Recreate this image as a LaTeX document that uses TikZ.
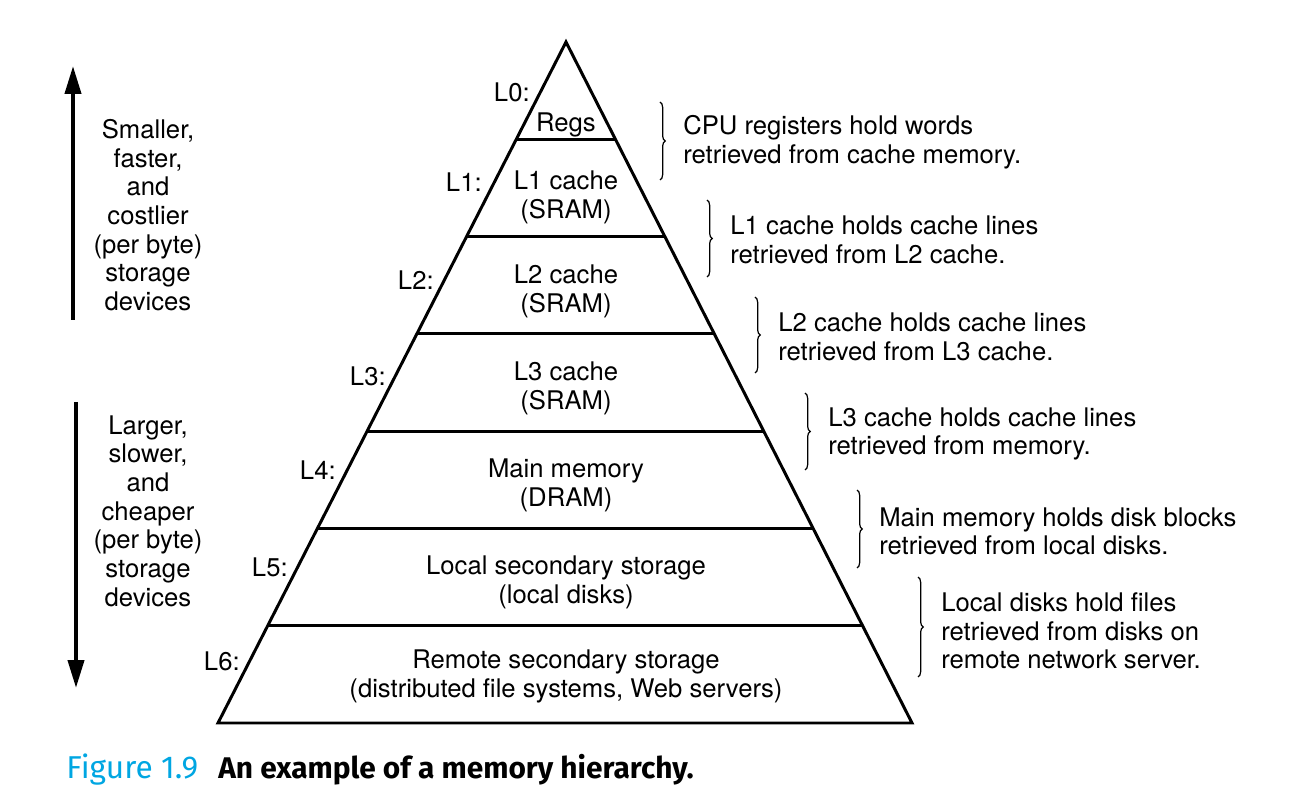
\documentclass[tikz,border=0pt]{standalone}
\usepackage{fontspec}
\setmainfont{TeX Gyre Heros}
\newfontfamily\capfont{Fira Sans}
\usetikzlibrary{arrows.meta,calc,decorations.pathreplacing}
\definecolor{figblue}{RGB}{0,166,226}

\begin{document}
\begin{tikzpicture}[x=0.02cm,y=-0.02cm,
  lvl/.style={font=\fontsize{14.6}{16.3}\selectfont,align=center,inner sep=0pt,yshift=-1.4pt},
  tag/.style={font=\fontsize{14.6}{16.3}\selectfont,anchor=east,inner sep=0pt},
  note/.style={font=\fontsize{14.6}{16.3}\selectfont,align=left,anchor=west,inner sep=0pt,yshift=-1.4pt},
  side/.style={font=\fontsize{14.6}{16.3}\selectfont,align=center,inner sep=0pt},
  curly/.style={line width=0.7pt,decorate,decoration={brace,amplitude=3pt}},
  bigarrow/.style={line width=2.3pt,-{Triangle[length=0.56cm,width=0.32cm]}}]
  \useasboundingbox (0,0) rectangle (1302,786);
  % the pyramid
  \coordinate (apex) at (566,42);
  \coordinate (bl) at (218,723);
  \coordinate (br) at (912,723);
  \draw[line width=1.7pt,line join=miter] (apex) -- (bl) -- (br) -- cycle;
  \foreach \k in {1,...,6}
    \draw[line width=1.6pt] ($(apex)!\k/7!(bl)$) -- ($(apex)!\k/7!(br)$);
  % level tags
  \foreach \k/\x/\y in {0/530/92,1/482/182,2/434/280,3/386/376,4/336/470,5/288/567,6/240/661}
    \node[tag] (tag\k) at (\x,\y) {L\k:};
  % level contents
  \node[lvl] (regs) at (566,122) {Regs};
  \node[lvl] (lone) at (566,195) {L1 cache\\(SRAM)};
  \node[lvl] (ltwo) at (566,289) {L2 cache\\(SRAM)};
  \node[lvl] (lthree) at (566,386) {L3 cache\\(SRAM)};
  \node[lvl] (dram) at (566,483) {Main memory\\(DRAM)};
  \node[lvl] (local) at (566,580) {Local secondary storage\\(local disks)};
  \node[lvl] (remote) at (566,674) {Remote secondary storage\\(distributed file systems, Web servers)};
  % braces and notes
  \foreach \i/\x/\ya/\yb in {0/660/102/180,1/707/200/277,2/755/297/373,3/805/393/470,4/857/490/568,5/918/577/677}{
    \coordinate (bt\i) at (\x,\ya);
    \coordinate (bb\i) at (\x,\yb);
    \draw[curly] (bt\i) -- (bb\i);
  }
  \node[note] (n0) at (683,139.5) {CPU registers hold words\\retrieved from cache memory.};
  \node[note] (n1) at (730,237.5) {L1 cache holds cache lines\\retrieved from L2 cache.};
  \node[note] (n2) at (778,334.5) {L2 cache holds cache lines\\retrieved from L3 cache.};
  \node[note] (n3) at (828,431.5) {L3 cache holds cache lines\\retrieved from memory.};
  \node[note] (n4) at (879,529) {Main memory holds disk blocks\\retrieved from local disks.};
  \node[note] (n5) at (941,628.5) {Local disks hold files\\retrieved from disks on\\remote network server.};
  % side arrows
  \coordinate (upfoot) at (73,320);
  \coordinate (uptip) at (73,66);
  \coordinate (dnfoot) at (76,402);
  \coordinate (dntip) at (76,688);
  \draw[bigarrow] (upfoot) -- (uptip);
  \draw[bigarrow] (dnfoot) -- (dntip);
  \node[side] (up) at (148,215) {Smaller,\\faster,\\and\\costlier\\(per byte)\\storage\\devices};
  \node[side] (down) at (148,511) {Larger,\\slower,\\and\\cheaper\\(per byte)\\storage\\devices};
  % caption
  \node[font=\capfont\fontsize{18}{20}\selectfont,text=figblue,anchor=base west,inner sep=0pt] (fig) at (66,779) {Figure 1.9};
  \node[font=\capfont\bfseries\fontsize{17}{20}\selectfont,anchor=base west,inner sep=0pt] (cap) at (218,779) {An example of a memory hierarchy.};
\end{tikzpicture}
\end{document}
